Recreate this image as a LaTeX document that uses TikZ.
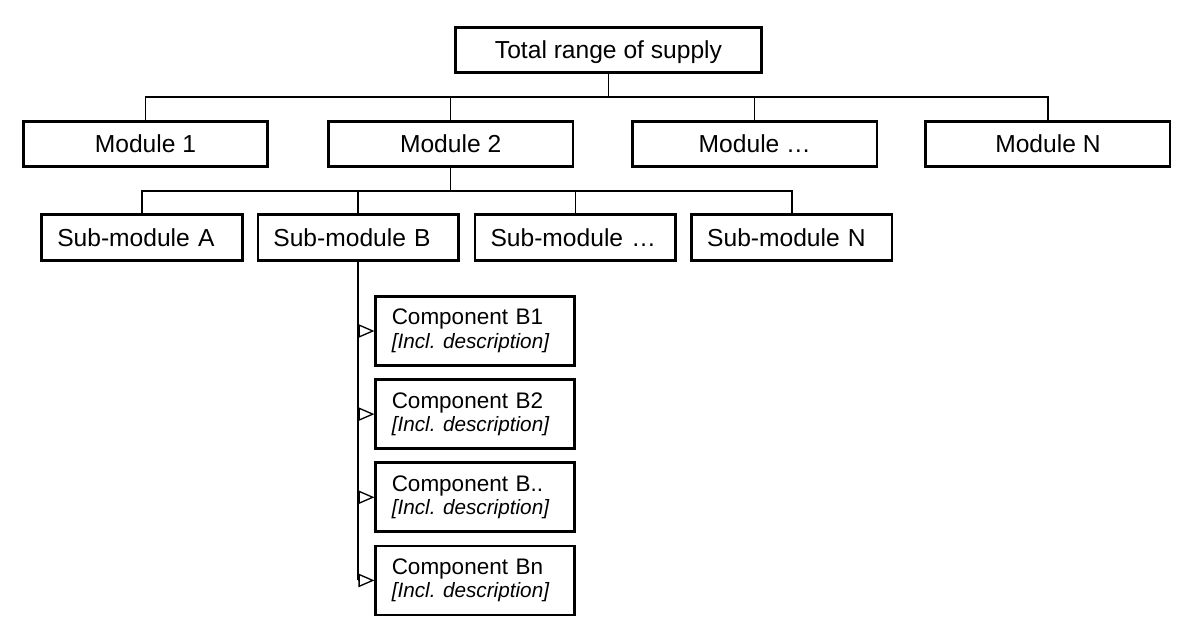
\documentclass[tikz,border=0pt]{standalone}
\usepackage{fontspec}
\setsansfont{Liberation Sans}
\usetikzlibrary{arrows.meta,positioning}

\begin{document}
\begin{tikzpicture}[
            supply/.style={draw, line width=1.5pt, minimum width=6.13cm, minimum height=0.91cm, inner sep=0pt, text height=10pt, text depth=0pt},
            module/.style={draw, line width=1.5pt, minimum width=4.89cm, minimum height=0.91cm, inner sep=0pt, text height=10pt, text depth=0pt},
            submodule/.style={draw, line width=1.5pt, minimum height=0.93cm, inner xsep=0.31cm, inner ysep=0pt, text width=3.39cm, align=left, text height=10pt, text depth=0pt},
            component/.style={draw, line width=1.5pt, minimum height=1.38cm, inner xsep=0.32cm, inner ysep=0pt, text width=3.33cm, align=left, font=\sffamily\fontsize{12.8}{13.4}\selectfont},
            every node/.style={font=\sffamily\fontsize{14}{16}\selectfont},
            link/.style={line width=0.75pt},
            branch/.style={-{Triangle[open, length=0.32cm, width=0.27cm]}, line width=0.75pt},
            node distance = 0.23cm
  ]

  \useasboundingbox (0,0) rectangle (24,12.84);

  \node[supply] (total) at (12.17,11.84) {Total range of supply};

  \node[module] (mod1) at (2.91,9.96) {Module 1};
  \node[module] (mod2) [right=1.16cm of mod1] {Module 2};
  \node[module] (mod3) [right=1.14cm of mod2] {Module \dots};
  \node[module] (modN) [right=0.92cm of mod3] {Module N};

  \node[submodule] (subA) at (2.84,8.09) {Sub-module A};
  \node[submodule] (subB) [right=0.26cm of subA] {Sub-module B};
  \node[submodule] (subC) [right=0.28cm of subB] {Sub-module \dots};
  \node[submodule] (subN) [right=0.27cm of subC] {Sub-module N};

  \node[component] (compB1) at (9.5,6.22) {Component B1\\{\fontsize{11.8}{13.4}\selectfont\itshape [Incl.\ description]}};
  \node[component] (compB2) [below=of compB1] {Component B2\\{\fontsize{11.8}{13.4}\selectfont\itshape [Incl.\ description]}};
  \node[component] (compB3) [below=of compB2] {Component B..\\{\fontsize{11.8}{13.4}\selectfont\itshape [Incl.\ description]}};
  \node[component] (compBn) [below=of compB3] {Component Bn\\{\fontsize{11.8}{13.4}\selectfont\itshape [Incl.\ description]}};

  \draw[link] (total.south) -- ++(0,-0.46cm) coordinate (bus1);
  \draw[link] (bus1) -| (mod1.north);
  \draw[link] (bus1) -| (mod2.north);
  \draw[link] (bus1) -| (mod3.north);
  \draw[link] (bus1) -| (modN.north);

  \draw[link] (mod2.south) -- ++(0,-0.46cm) coordinate (bus2);
  \draw[link] (bus2) -| (subA.north);
  \draw[link] (bus2) -| (subB.north);
  \draw[link] (bus2) -| (subC.north);
  \draw[link] (bus2) -| (subN.north);

  \draw[link] (subB.south) -- (subB.south |- compBn.west);
  \draw[branch] (subB.south |- compB1.west) -- (compB1.west);
  \draw[branch] (subB.south |- compB2.west) -- (compB2.west);
  \draw[branch] (subB.south |- compB3.west) -- (compB3.west);
  \draw[branch] (subB.south |- compBn.west) -- (compBn.west);

\end{tikzpicture}
\end{document}
